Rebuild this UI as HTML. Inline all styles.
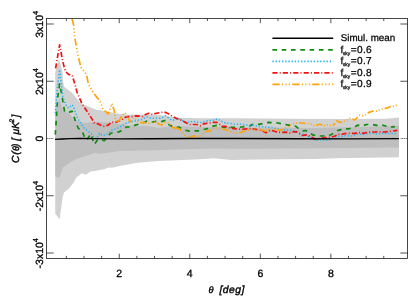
<!DOCTYPE html>
<html><head><meta charset="utf-8"><style>
html,body{margin:0;padding:0;background:#fff;}
svg{display:block;font-family:"Liberation Sans",sans-serif;text-rendering:geometricPrecision;will-change:transform;}
</style></head><body>
<svg width="415" height="297" viewBox="0 0 415 297">
<rect width="415" height="297" fill="#fff"/>
<polygon fill="#d1d1d1" points="55.25,71.75 59.25,59.25 62.75,73.00 62.75,79.00 64.00,86.50 72.75,93.50 80.25,102.75 81.50,103.75 87.75,106.25 96.00,109.75 102.00,110.50 111.00,112.30 117.00,113.60 126.00,114.50 146.00,114.50 161.00,115.25 178.50,117.75 200.00,118.30 240.00,118.20 290.00,118.80 340.00,119.00 385.00,118.80 399.00,117.50 399.00,157.30 370.00,157.70 344.00,158.00 315.00,159.00 280.00,159.20 244.00,159.80 231.00,159.90 213.80,158.20 200.00,159.20 187.80,159.80 171.00,160.50 158.90,161.00 146.00,162.10 136.00,162.90 126.60,164.70 119.40,166.10 112.10,167.80 108.50,167.50 104.20,169.30 97.70,170.40 90.50,171.60 85.80,174.80 81.80,173.30 76.00,177.70 74.00,182.00 69.00,188.50 64.00,192.50 62.75,196.50 59.60,219.50 55.25,213.50"/>
<polygon fill="#bebebe" points="55.25,108.75 59.60,99.40 62.75,108.75 69.00,113.75 76.50,120.50 84.00,123.10 96.00,121.70 111.00,122.75 126.00,125.25 146.00,126.00 158.50,127.75 178.50,126.00 200.00,127.00 260.00,127.50 311.00,128.00 360.00,127.00 399.00,125.50 399.00,147.50 344.00,148.00 244.00,148.80 215.00,148.50 190.00,149.00 165.00,150.00 144.00,150.50 119.40,151.00 107.80,152.80 99.10,153.80 94.80,152.70 90.50,154.50 85.25,156.20 75.25,159.50 69.00,163.25 62.75,167.60 59.60,177.80 55.25,176.50"/>
<g fill="none" stroke-width="1.7" stroke-linejoin="round">
<polyline stroke="#118a11" stroke-dasharray="4.6 4.7" points="55.25,134.65 56.25,120.90 57.10,104.90 58.00,95.40 59.60,83.90 62.10,96.15 63.40,104.90 64.60,111.15 67.10,113.00 72.10,111.15 74.00,116.15 75.25,120.40 76.75,124.65 78.40,128.40 82.10,130.90 84.00,135.90 85.25,139.65 87.75,138.40 90.90,134.00 92.75,139.65 94.30,144.40 97.50,140.00 98.25,139.50 104.50,140.60 106.40,137.65 110.75,133.30 113.90,132.40 118.90,132.00 122.00,130.15 126.40,127.00 130.75,127.00 135.10,125.15 139.50,123.90 145.00,122.00 146.90,121.15 152.50,122.00 156.25,121.40 161.25,121.65 165.60,120.40 168.10,123.30 169.40,125.15 171.90,126.15 176.25,127.40 178.75,127.00 181.25,128.30 185.00,130.15 189.40,131.15 194.25,130.80 198.60,130.80 203.60,129.50 207.40,128.65 212.40,126.40 216.75,125.40 221.10,126.40 224.25,127.40 229.90,127.00 233.60,127.40 241.60,127.00 250.40,125.80 252.25,124.50 259.10,124.30 268.50,122.40 277.90,123.00 286.25,124.70 290.25,125.40 295.90,126.40 297.75,127.90 302.75,130.80 305.90,130.50 310.25,133.30 313.40,135.15 319.00,136.00 322.75,136.00 328.40,135.80 331.50,134.50 333.25,133.30 337.00,130.80 340.10,129.90 345.10,128.90 349.50,128.65 354.50,126.65 358.25,125.15 362.60,125.80 366.40,124.50 372.00,124.50 376.40,125.40 380.50,124.60 385.50,126.00 389.90,127.30 394.90,126.65"/>
<polyline stroke="#2fb4f0" stroke-width="1.55" stroke-dasharray="1.4 1.78" points="55.25,113.40 56.50,97.40 57.10,90.40 59.60,69.80 62.10,90.40 62.75,97.40 67.10,107.40 69.00,108.00 72.10,104.90 74.00,107.40 75.25,112.40 78.40,119.65 80.25,122.40 84.00,127.90 85.25,129.00 91.50,134.00 94.50,137.65 96.40,138.90 99.50,133.30 102.60,135.80 105.75,135.15 108.25,133.30 112.60,129.50 116.40,128.90 122.00,125.80 124.50,123.90 129.50,122.00 135.75,120.80 141.90,119.50 145.00,117.65 147.50,117.00 151.25,118.30 160.60,118.30 163.10,117.00 165.60,115.80 168.10,117.65 170.60,119.50 173.10,120.15 175.60,119.50 178.10,118.30 181.25,120.15 185.60,122.00 189.25,122.20 192.40,121.40 195.50,121.40 198.60,122.40 201.75,122.40 204.90,121.40 208.00,120.80 211.10,120.40 214.25,119.90 217.60,118.90 220.50,120.80 223.60,122.40 226.75,123.30 229.90,123.30 233.00,123.90 236.30,124.50 239.50,124.00 242.90,124.50 246.00,124.90 249.10,124.90 252.25,125.15 255.40,125.80 258.50,126.40 261.60,126.40 264.75,127.00 267.90,127.40 271.00,127.00 274.10,128.30 277.25,128.90 280.40,129.50 283.50,129.90 286.60,129.90 289.60,130.15 292.75,130.40 295.90,131.15 299.00,132.65 302.75,134.15 306.50,135.40 310.25,137.90 313.40,139.50 316.50,140.15 329.00,139.90 332.30,138.90 335.10,137.65 338.25,136.40 341.40,136.40 344.50,135.80 347.60,135.80 351.40,136.15 354.50,134.90 357.60,134.15 360.75,134.15 363.90,134.50 367.00,133.65 370.10,133.30 373.25,133.30 376.40,134.15 379.50,133.65 382.60,133.30 390.00,133.40 397.25,133.65"/>
<polyline stroke="#f01414" stroke-dasharray="5.2 2.1 1.0 2.1" points="55.60,68.40 59.60,44.80 62.75,61.40 64.70,69.20 66.60,72.60 68.60,74.40 72.30,75.70 75.90,87.65 77.10,92.40 81.50,102.65 82.75,104.90 92.00,118.90 93.90,122.65 98.25,123.90 103.25,126.40 108.25,125.15 111.40,122.00 115.10,122.65 123.25,118.90 125.75,117.00 133.25,116.40 135.75,115.80 142.50,116.40 145.60,114.50 148.75,113.30 152.50,114.50 156.25,113.30 163.75,112.00 166.25,112.65 168.75,113.90 172.50,116.40 176.25,118.30 181.25,120.15 183.75,121.40 186.90,123.30 189.90,124.50 193.60,124.50 196.75,124.50 200.50,125.80 203.60,123.90 206.75,123.30 209.90,123.00 213.60,122.40 217.00,122.40 219.90,124.50 222.40,126.40 225.50,126.40 229.25,127.65 232.40,128.30 235.50,128.90 241.60,129.30 246.60,128.90 251.60,128.65 256.60,129.50 261.00,130.15 266.00,132.65 268.50,131.40 271.00,130.15 276.00,131.80 281.00,132.40 286.00,132.20 289.60,132.90 292.75,131.80 296.50,131.80 299.60,133.90 302.10,135.50 305.90,134.90 309.60,136.15 312.10,137.40 315.25,138.90 320.25,138.30 325.25,137.65 330.25,137.40 335.10,136.00 338.25,134.15 341.40,134.50 344.50,133.65 349.50,133.30 355.10,133.30 358.90,132.40 362.00,133.30 365.10,132.90 369.50,132.00 375.10,132.00 380.10,131.80 384.00,132.00 390.00,131.40 397.25,130.40"/>
<polyline stroke="#ffa40a" stroke-width="1.7" stroke-dasharray="7.20 2.35 1.10 2.35 1.10 2.35 1.10 2.35" stroke-dashoffset="0.00" points="72.10,18.90 73.75,25.65 74.60,35.65 75.25,40.40 76.75,48.15 77.75,54.15 80.90,67.30 86.50,74.60 88.40,83.90 92.00,90.70 97.00,97.60 99.50,100.10 100.75,103.20 102.00,106.30 103.25,109.50 108.25,113.90 109.25,110.40 110.75,107.30 112.00,103.50"/>
<polyline stroke="#ffa40a" stroke-width="1.7" stroke-dasharray="6.48 2.12 0.99 2.12 0.99 2.12 0.99 2.12" stroke-dashoffset="14.48" points="112.00,103.50 114.50,111.65 115.10,114.90 115.10,118.30 117.60,122.65 120.10,118.90 122.60,115.15 125.10,112.65 127.00,115.80 128.90,119.50 130.10,122.00 132.00,118.90 133.90,117.65 136.40,119.50 138.25,122.00 141.25,122.65 144.40,122.65 147.50,123.65 150.60,122.40 153.75,122.00 156.90,122.40 159.40,124.50 161.90,124.90 164.40,122.65 168.10,122.65 170.60,125.80 173.10,127.65 175.60,128.30 177.50,127.90"/>
<polyline stroke="#ffa40a" stroke-width="1.7" stroke-dasharray="6.48 2.12 0.99 2.12 0.99 2.12 0.99 2.12" stroke-dashoffset="1.74" points="177.50,127.90 180.00,129.50 182.50,132.00 185.00,135.15 186.90,137.65 189.25,137.00 194.90,135.80 199.25,136.40 201.75,135.40 204.25,132.65 206.75,131.40 209.90,130.80 212.40,129.15 215.50,127.90 218.60,127.65 221.50,128.90 225.50,129.50 229.90,131.40 233.60,132.65 237.25,132.80 241.00,132.40 245.40,130.80 249.75,129.50 253.50,129.50 256.60,130.15"/>
<polyline stroke="#ffa40a" stroke-width="1.7" stroke-dasharray="6.48 2.12 0.99 2.12 0.99 2.12 0.99 2.12" stroke-dashoffset="14.20" points="256.60,130.15 260.40,129.50 264.10,130.80 266.60,130.80 269.75,128.65 271.60,127.90 274.75,129.50 277.90,130.15 281.60,129.90 284.75,128.30 289.60,125.80"/>
<polyline stroke="#ffa40a" stroke-width="1.7" stroke-dasharray="6.48 2.12 0.99 2.12 0.99 2.12 0.99 2.12" stroke-dashoffset="7.91" points="289.60,125.80 292.75,124.15 295.90,123.00 302.10,123.00 309.00,123.65 312.10,124.50 315.25,126.15 318.40,124.50 320.90,124.50 323.40,126.15 326.50,124.90 329.60,125.15 332.75,126.00 335.10,123.30"/>
<polyline stroke="#ffa40a" stroke-width="1.7" stroke-dasharray="6.48 2.12 0.99 2.12 0.99 2.12 0.99 2.12" stroke-dashoffset="15.75" points="335.10,123.30 337.00,120.80 340.10,122.40 343.25,122.00 346.40,120.15 349.50,118.30 352.60,118.90 354.50,119.90 357.00,117.90 359.50,115.40 362.60,115.80 365.50,114.90 368.80,112.40 372.50,111.20 376.90,111.10 380.60,109.30 383.70,108.90 387.40,107.90 390.50,106.40 393.00,106.40 395.50,105.65 398.60,104.40"/>
<polyline stroke="#000" stroke-width="1.35" points="55,139.3 62,139.0 70,138.6 80,138.3 95,138.6 120,138.8 150,138.7 190,138.5 240,138.5 300,138.7 350,138.8 399,138.6"/>
</g>
<g stroke="#1a1a1a" stroke-width="0.75" fill="none">
<rect x="46.5" y="18.4" width="361.0" height="240.1" stroke-width="0.8"/>
<line x1="66.34" y1="258.5" x2="66.34" y2="255.9"/>
<line x1="66.34" y1="18.4" x2="66.34" y2="21.0"/>
<line x1="83.97" y1="258.5" x2="83.97" y2="255.9"/>
<line x1="83.97" y1="18.4" x2="83.97" y2="21.0"/>
<line x1="101.61" y1="258.5" x2="101.61" y2="255.9"/>
<line x1="101.61" y1="18.4" x2="101.61" y2="21.0"/>
<line x1="119.24" y1="258.5" x2="119.24" y2="253.7"/>
<line x1="119.24" y1="18.4" x2="119.24" y2="23.2"/>
<line x1="136.88" y1="258.5" x2="136.88" y2="255.9"/>
<line x1="136.88" y1="18.4" x2="136.88" y2="21.0"/>
<line x1="154.51" y1="258.5" x2="154.51" y2="255.9"/>
<line x1="154.51" y1="18.4" x2="154.51" y2="21.0"/>
<line x1="172.15" y1="258.5" x2="172.15" y2="255.9"/>
<line x1="172.15" y1="18.4" x2="172.15" y2="21.0"/>
<line x1="189.78" y1="258.5" x2="189.78" y2="253.7"/>
<line x1="189.78" y1="18.4" x2="189.78" y2="23.2"/>
<line x1="207.42" y1="258.5" x2="207.42" y2="255.9"/>
<line x1="207.42" y1="18.4" x2="207.42" y2="21.0"/>
<line x1="225.05" y1="258.5" x2="225.05" y2="255.9"/>
<line x1="225.05" y1="18.4" x2="225.05" y2="21.0"/>
<line x1="242.69" y1="258.5" x2="242.69" y2="255.9"/>
<line x1="242.69" y1="18.4" x2="242.69" y2="21.0"/>
<line x1="260.32" y1="258.5" x2="260.32" y2="253.7"/>
<line x1="260.32" y1="18.4" x2="260.32" y2="23.2"/>
<line x1="277.96" y1="258.5" x2="277.96" y2="255.9"/>
<line x1="277.96" y1="18.4" x2="277.96" y2="21.0"/>
<line x1="295.59" y1="258.5" x2="295.59" y2="255.9"/>
<line x1="295.59" y1="18.4" x2="295.59" y2="21.0"/>
<line x1="313.23" y1="258.5" x2="313.23" y2="255.9"/>
<line x1="313.23" y1="18.4" x2="313.23" y2="21.0"/>
<line x1="330.86" y1="258.5" x2="330.86" y2="253.7"/>
<line x1="330.86" y1="18.4" x2="330.86" y2="23.2"/>
<line x1="348.50" y1="258.5" x2="348.50" y2="255.9"/>
<line x1="348.50" y1="18.4" x2="348.50" y2="21.0"/>
<line x1="366.13" y1="258.5" x2="366.13" y2="255.9"/>
<line x1="366.13" y1="18.4" x2="366.13" y2="21.0"/>
<line x1="383.77" y1="258.5" x2="383.77" y2="255.9"/>
<line x1="383.77" y1="18.4" x2="383.77" y2="21.0"/>
<line x1="46.5" y1="24.0" x2="53.7" y2="24.0"/>
<line x1="407.5" y1="24.0" x2="400.3" y2="24.0"/>
<line x1="46.5" y1="81.25" x2="53.7" y2="81.25"/>
<line x1="407.5" y1="81.25" x2="400.3" y2="81.25"/>
<line x1="46.5" y1="138.5" x2="53.7" y2="138.5" stroke-width="0.55" stroke-dasharray="1.8 0.45"/>
<line x1="407.5" y1="138.5" x2="400.3" y2="138.5" stroke-width="0.55" stroke-dasharray="1.8 0.45"/>
<line x1="46.5" y1="195.75" x2="53.7" y2="195.75"/>
<line x1="407.5" y1="195.75" x2="400.3" y2="195.75"/>
<line x1="46.5" y1="253.0" x2="53.7" y2="253.0"/>
<line x1="407.5" y1="253.0" x2="400.3" y2="253.0"/>
</g>
<g font-size="10.5" fill="#000" stroke="#000" stroke-width="0.3">
<text x="119.24" y="277.2" text-anchor="middle">2</text>
<text x="189.78" y="277.2" text-anchor="middle">4</text>
<text x="260.32" y="277.2" text-anchor="middle">6</text>
<text x="330.86" y="277.2" text-anchor="middle">8</text>
<text transform="translate(43.2,24.3) rotate(-90)" text-anchor="middle">3x10<tspan dy="-5" font-size="7.3">4</tspan></text>
<text transform="translate(43.2,81.55) rotate(-90)" text-anchor="middle">2x10<tspan dy="-5" font-size="7.3">4</tspan></text>
<text transform="translate(43.2,138.5) rotate(-90)" text-anchor="middle">0</text>
<text transform="translate(43.2,196.05) rotate(-90)" text-anchor="middle">-2x10<tspan dy="-5" font-size="7.3">4</tspan></text>
<text transform="translate(43.2,253.3) rotate(-90)" text-anchor="middle">-3x10<tspan dy="-5" font-size="7.3">4</tspan></text>
</g>
<g font-size="10.3" font-style="italic" fill="#000" stroke="#000" stroke-width="0.38">
<text x="208.4" y="293.1" font-size="9.2">θ</text>
<text x="219.4" y="293.1" letter-spacing="0.5">[deg]</text>
<text transform="translate(19.1,162.8) rotate(-90)"><tspan x="-0.3">C</tspan><tspan x="8.0">(</tspan><tspan x="11.9" font-size="9">θ</tspan><tspan x="15.7">)</tspan><tspan x="22.0">[</tspan><tspan x="28.2">μ</tspan><tspan x="34.0">K</tspan><tspan x="40.4" dy="-4.8" font-size="6.5">2</tspan><tspan x="45.4" dy="4.8">]</tspan></text>
</g>
<g fill="none" stroke-width="1.7">
<line stroke="#000" stroke-width="1.5" x1="272.4" y1="38.3" x2="333.2" y2="38.3"/>
<line stroke="#118a11" stroke-dasharray="4.6 4.7" x1="272.4" y1="49.8" x2="333.2" y2="49.8"/>
<line stroke="#2fb4f0" stroke-width="1.55" stroke-dasharray="1.4 1.78" x1="272.4" y1="61.35" x2="333.2" y2="61.35"/>
<line stroke="#f01414" stroke-dasharray="5.2 2.1 1.0 2.1" x1="272.4" y1="72.9" x2="333.2" y2="72.9"/>
<line stroke="#ffa40a" stroke-dasharray="7.2 2.35 1.1 2.35 1.1 2.35 1.1 2.35" x1="272.4" y1="84.3" x2="333.2" y2="84.3"/>
</g>
<g font-size="9.8" fill="#000" stroke="#000" stroke-width="0.25">
<text x="340.7" y="41.20">Simul. mean</text>
<text y="52.90" font-size="10.1"><tspan x="340.5">f</tspan><tspan x="342.9" dy="1.7" font-size="4.9">sky</tspan><tspan x="350.8" dy="-1.7">=</tspan><tspan x="357.1" letter-spacing="0.3">0.6</tspan></text>
<text y="64.45" font-size="10.1"><tspan x="340.5">f</tspan><tspan x="342.9" dy="1.7" font-size="4.9">sky</tspan><tspan x="350.8" dy="-1.7">=</tspan><tspan x="357.1" letter-spacing="0.3">0.7</tspan></text>
<text y="76.00" font-size="10.1"><tspan x="340.5">f</tspan><tspan x="342.9" dy="1.7" font-size="4.9">sky</tspan><tspan x="350.8" dy="-1.7">=</tspan><tspan x="357.1" letter-spacing="0.3">0.8</tspan></text>
<text y="87.40" font-size="10.1"><tspan x="340.5">f</tspan><tspan x="342.9" dy="1.7" font-size="4.9">sky</tspan><tspan x="350.8" dy="-1.7">=</tspan><tspan x="357.1" letter-spacing="0.3">0.9</tspan></text>
</g>
</svg>
</body></html>
